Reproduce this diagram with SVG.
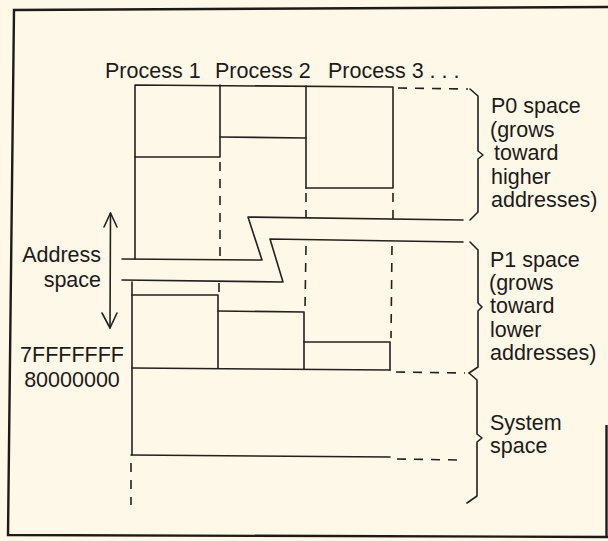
<svg xmlns="http://www.w3.org/2000/svg" width="608" height="541" viewBox="0 0 608 541">
<style>
.ln{fill:none;stroke:#24201c;stroke-width:1.6;stroke-linecap:round;stroke-linejoin:round}
.ds{fill:none;stroke:#24201c;stroke-width:1.6;stroke-dasharray:9 8}
.fr{fill:none;stroke:#1e1a17;stroke-width:2.4}
.tx{font-family:"Liberation Sans",Arial,sans-serif;font-size:21.5px;fill:#1e1a18}
</style>
<rect width="608" height="541" fill="#fdf8e8"/>
<g id="frame">
<path class="fr" d="M608,7 L14,10 L8,535 L608,537"/>
<path class="fr" d="M606.5,425 L606.5,537"/>
</g>
<g id="headers">
<text class="tx" x="105" y="78" font-size="21">Process 1</text>
<text class="tx" x="215" y="78" font-size="21">Process 2</text>
<text class="tx" x="328" y="78" font-size="21">Process 3 . . .</text>
</g>
<g id="p0-region">
<path class="ln" d="M135,259 L135,85 L393,87 L393,188 L306,188"/>
<path class="ln" d="M135,157 L220,157 L220,85"/>
<path class="ln" d="M220,137 L306,138"/>
<path class="ln" d="M306,86 L306,188"/>
<path class="ds" d="M220,162 L220,259"/>
<path class="ds" d="M306,193 L306,217"/>
<path class="ds" d="M393,193 L393,219"/>
<path class="ds" d="M398,88 L468,89"/>
</g>
<g id="p1-region">
<path class="ln" d="M132,282 L132,455"/>
<path class="ln" d="M132,295 L218,295 L218,368"/>
<path class="ln" d="M218,311 L304,312 L304,369"/>
<path class="ln" d="M304,342 L390,342 L390,370"/>
<path class="ln" d="M132,368 L390,370"/>
<path class="ds" d="M219,283 L219,292"/>
<path class="ds" d="M306,246 L305,308"/>
<path class="ds" d="M392,246 L391,338"/>
<path class="ds" d="M396,372 L465,373"/>
</g>
<g id="system-region">
<path class="ln" d="M131,455 L390,457"/>
<path class="ds" d="M397,459 L460,460"/>
<path class="ds" d="M131,463 L131,505"/>
</g>
<g id="gap">
<path class="ln" d="M463,220 L248,217 L262,260 L122,259"/>
<path class="ln" d="M122,280 L283,282 L270,239 L463,242"/>
</g>
<g id="braces">
<path class="ln" d="M470,89 L478,96 L478,151 L483,155 L478,159 L478,212 L470,220"/>
<path class="ln" d="M470,242 L478,250 L478,303 L482,307 L478,311 L478,367 L469,373 L477,380 L477,434 L482,438 L477,442 L477,496 L467,503"/>
</g>
<g id="p0-label">
<text class="tx" x="491" y="113">P0 space</text>
<text class="tx" x="490" y="137">(grows</text>
<text class="tx" x="494" y="160">toward</text>
<text class="tx" x="491" y="184">higher</text>
<text class="tx" x="491" y="207">addresses)</text>
</g>
<g id="p1-label">
<text class="tx" x="490" y="267">P1 space</text>
<text class="tx" x="489" y="290">(grows</text>
<text class="tx" x="490" y="313">toward</text>
<text class="tx" x="490" y="337">lower</text>
<text class="tx" x="490" y="360">addresses)</text>
</g>
<g id="system-label">
<text class="tx" x="490" y="430">System</text>
<text class="tx" x="490" y="453">space</text>
</g>
<g id="address-label">
<text class="tx" x="101" y="262" text-anchor="end">Address</text>
<text class="tx" x="101" y="287" text-anchor="end">space</text>
<text class="tx" x="72" y="362" text-anchor="middle">7FFFFFFF</text>
<text class="tx" x="72" y="387" text-anchor="middle">80000000</text>
</g>
<g id="connectors">
<path class="ln" d="M110.5,213 L110,328"/>
<path class="ln" d="M104,227 L110.5,213 L117,227"/>
<path class="ln" d="M102,313 L110,328 L117,313"/>
</g>
</svg>
